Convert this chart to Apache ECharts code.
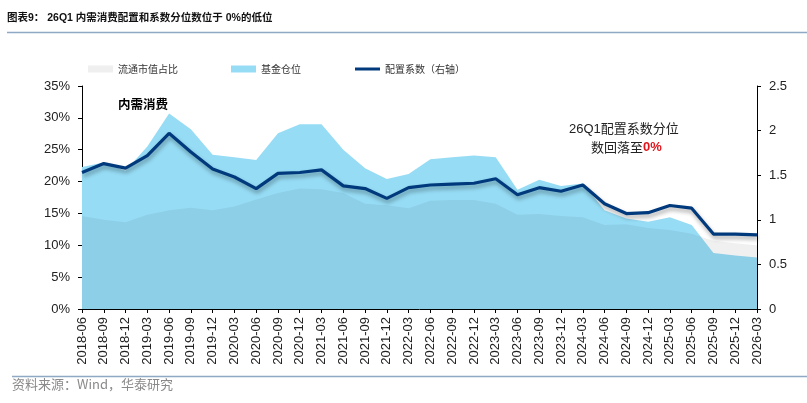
<!DOCTYPE html>
<html><head><meta charset="utf-8">
<script src="https://cdn.jsdelivr.net/npm/echarts@6/dist/echarts.min.js"></script>
<style>html,body{margin:0;padding:0;background:#fff;}#c{width:807px;height:403px;}</style>
</head><body><div id="c"></div>
<script>
var categories = ['2018-06','2018-09','2018-12','2019-03','2019-06','2019-09','2019-12','2020-03','2020-06','2020-09','2020-12','2021-03','2021-06','2021-09','2021-12','2022-03','2022-06','2022-09','2022-12','2023-03','2023-06','2023-09','2023-12','2024-03','2024-06','2024-09','2024-12','2025-03','2025-06','2025-09','2025-12','2026-03'];
var marketCapShare = [14.6,14.0,13.6,14.8,15.5,15.9,15.5,16.1,17.2,18.2,18.9,18.8,18.2,16.5,16.3,15.8,17.0,17.1,17.1,16.5,14.8,14.9,14.6,14.4,13.2,13.3,12.7,12.4,11.8,10.7,10.3,10.0];
var fundPosition = [22.3,23.0,21.7,25.5,30.7,28.2,24.2,23.8,23.4,27.6,29.0,29.0,25.0,22.1,20.4,21.2,23.5,23.8,24.1,23.8,18.7,20.3,19.3,19.7,15.5,14.2,13.7,14.4,13.2,8.8,8.4,8.1];
var allocCoef = [1.53,1.63,1.58,1.72,1.97,1.76,1.57,1.48,1.35,1.52,1.53,1.56,1.38,1.35,1.24,1.36,1.39,1.40,1.41,1.46,1.28,1.36,1.32,1.39,1.18,1.07,1.08,1.16,1.13,0.84,0.84,0.83];
var leftTicks = {min:0, max:35, interval:5};
var rightTicks = {min:0, max:2.5, interval:0.5};

var FONT = '"Liberation Sans", Arial, "Noto Sans CJK SC", sans-serif';
var CJK = '"Noto Sans CJK SC", "Liberation Sans", sans-serif';
var chart = echarts.init(document.getElementById('c'), null, {renderer:'canvas'});
var legText = {fontSize:10, color:'#333', fontFamily:CJK};
chart.setOption({
  animation:false,
  backgroundColor:'#fff',
  grid:{left:82, right:50, top:86, bottom:94, containLabel:false},
  legend:[
    {left:83, top:59, itemWidth:25, itemHeight:7, textStyle:legText, data:[{name:'流通市值占比', icon:'rect', itemStyle:{color:'#efefef'}}]},
    {left:226, top:59, itemWidth:25, itemHeight:7, textStyle:legText, data:[{name:'基金仓位', icon:'rect', itemStyle:{color:'#96dcf5'}}]},
    {left:350, top:59, itemWidth:25, itemHeight:3, textStyle:legText, data:[{name:'配置系数（右轴）', icon:'rect', itemStyle:{color:'#003a7d'}}]}
  ],
  xAxis:{
    type:'category', data:categories, boundaryGap:false,
    axisLine:{lineStyle:{color:'#000', width:1}},
    axisTick:{show:true, interval:0, length:4, lineStyle:{color:'#000'}},
    axisLabel:{interval:0, rotate:90, margin:8, fontSize:13, color:'#222', fontFamily:FONT},
    splitLine:{show:false}
  },
  yAxis:[
    {type:'value', min:leftTicks.min, max:leftTicks.max, interval:leftTicks.interval, position:'left',
     axisLine:{show:true, lineStyle:{color:'#000'}}, axisTick:{show:true, length:4, lineStyle:{color:'#000'}},
     axisLabel:{formatter:'{value}%', fontSize:13, color:'#222', margin:12, fontFamily:FONT},
     splitLine:{show:false}},
    {type:'value', min:rightTicks.min, max:rightTicks.max, interval:rightTicks.interval, position:'right',
     axisLine:{show:true, lineStyle:{color:'#000'}}, axisTick:{show:true, length:4, lineStyle:{color:'#000'}},
     axisLabel:{fontSize:13, color:'#222', margin:12, fontFamily:FONT},
     splitLine:{show:false}}
  ],
  series:[
    {name:'基金仓位', type:'line', yAxisIndex:0, data:fundPosition, symbol:'none', z:1,
     color:'#96dcf5', itemStyle:{color:'#96dcf5'}, lineStyle:{width:0}, areaStyle:{color:'#96dcf5', opacity:1}},
    {name:'流通市值占比', type:'line', yAxisIndex:0, data:marketCapShare, symbol:'none', z:2,
     color:'#efefef', itemStyle:{color:'#efefef'}, lineStyle:{width:0}, areaStyle:{color:'rgba(0,0,0,0.06)', opacity:1}},
    {name:'配置系数（右轴）', type:'line', yAxisIndex:1, data:allocCoef, symbol:'none', z:5,
     color:'#003a7d', itemStyle:{color:'#003a7d'},
     lineStyle:{width:3.2, color:'#003a7d', shadowColor:'rgba(0,0,0,0.35)', shadowBlur:4, shadowOffsetX:1, shadowOffsetY:3}}
  ],
  graphic:[
    {type:'text', left:7, top:13, style:{text:'图表9： 26Q1 内需消费配置和系数分位数位于 0%的低位', font:'bold 10.5px "Liberation Sans", "Noto Sans CJK SC", sans-serif', fill:'#111'}},
    {type:'line', shape:{x1:7, y1:32.5, x2:807, y2:32.5}, style:{stroke:'#8fa9c4', lineWidth:1.5}},
    {type:'line', shape:{x1:12, y1:376.5, x2:807, y2:376.5}, style:{stroke:'#8fa9c4', lineWidth:1.5}},
    {type:'text', left:12, top:378, style:{text:'资料来源：Wind，华泰研究', font:'13px "Noto Sans CJK SC", sans-serif', fill:'#8a8a8a'}},
    {type:'text', left:118, top:98, z:10, style:{text:'内需消费', font:'bold 12.5px "Noto Sans CJK SC", sans-serif', fill:'#000'}},
    {type:'text', left:569, top:123, z:10, style:{text:'26Q1配置系数分位', font:'13px "Liberation Sans", "Noto Sans CJK SC", sans-serif', fill:'#222'}},
    {type:'text', left:591, top:141, z:10, style:{text:'数回落至{r|0%}', font:'13px "Noto Sans CJK SC", sans-serif', fill:'#222',
      rich:{r:{fill:'#e0161c', font:'bold 13px "Liberation Sans", sans-serif'}}}}
  ]
});
</script></body></html>
